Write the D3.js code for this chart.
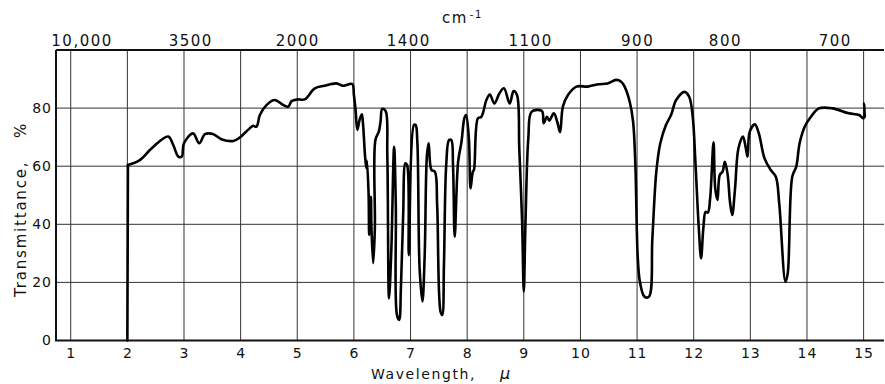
<!DOCTYPE html>
<html>
<head>
<meta charset="utf-8">
<script src="https://cdn.jsdelivr.net/npm/d3@7"></script>
<style>
  html, body { margin: 0; padding: 0; background: #fff; }
  svg text { font-family: "DejaVu Sans", sans-serif; fill: #111; }
</style>
</head>
<body>
<svg id="chart" width="885" height="384"></svg>
<script>
// spectrum
const wavelength = [
  2.00, 2.01, 2.22, 2.43, 2.72, 2.81, 2.90, 2.96, 3.00, 3.16, 3.27, 3.37, 3.51, 3.66, 3.87, 3.98,
  4.13, 4.22, 4.28, 4.34, 4.46, 4.60, 4.75, 4.84, 4.90, 5.00, 5.13, 5.31, 5.48, 5.69, 5.81, 5.97,
  6.00, 6.03, 6.06, 6.10, 6.14, 6.16, 6.20, 6.22, 6.23, 6.26, 6.27, 6.30, 6.31, 6.34, 6.37, 6.38,
  6.44, 6.47, 6.50, 6.56, 6.59, 6.62, 6.66, 6.71, 6.74, 6.76, 6.80, 6.83, 6.87, 6.91, 6.94, 6.97,
  7.06, 7.09, 7.12, 7.16, 7.21, 7.25, 7.29, 7.32, 7.37, 7.43, 7.47, 7.53, 7.56, 7.59, 7.63, 7.68,
  7.72, 7.75, 7.78, 7.84, 7.90, 7.95, 7.98, 8.03, 8.06, 8.10, 8.12, 8.19, 8.25, 8.34, 8.40, 8.48,
  8.57, 8.65, 8.75, 8.82, 8.88, 8.92, 8.97, 9.00, 9.03, 9.08, 9.14, 9.32, 9.35, 9.41, 9.45, 9.53,
  9.59, 9.64, 9.69, 9.78, 9.93, 10.13, 10.31, 10.48, 10.63, 10.72, 10.78, 10.87, 10.93, 10.97, 11.01, 11.05,
  11.13, 11.21, 11.27, 11.34, 11.41, 11.51, 11.60, 11.69, 11.84, 11.92, 11.98, 12.03, 12.09, 12.13, 12.17, 12.21,
  12.25, 12.29, 12.35, 12.38, 12.42, 12.46, 12.51, 12.55, 12.60, 12.64, 12.68, 12.73, 12.79, 12.87, 12.92, 12.95,
  12.99, 13.08, 13.15, 13.25, 13.36, 13.45, 13.51, 13.62, 13.66, 13.74, 13.81, 13.87, 13.96, 14.07, 14.21, 14.45,
  14.74, 14.92, 15.00, 15.01, 15.02
];
const transmittance = [
  0, 60.4, 62.1, 66.2, 70.2, 67.3, 63.3, 63.3, 67.9, 71.3, 67.9, 71.0, 71.1, 69.3, 68.7, 69.8,
  72.5, 73.9, 73.6, 77.6, 81.1, 82.8, 81.1, 80.5, 82.4, 83.0, 83.0, 86.8, 87.7, 88.5, 87.7, 88.3,
  84.5, 79.3, 72.5, 75.9, 77.9, 74.8, 62.7, 59.3, 61.9, 50.1, 36.3, 49.5, 38.6, 26.6, 38.6, 69.0,
  71.9, 75.3, 79.7, 79.0, 63.9, 14.5, 30.6, 66.7, 46.6, 8.8, 7.1, 18.0, 43.2, 61.0, 60.4, 29.4,
  74.2, 74.2, 68.4, 24.9, 13.4, 29.4, 63.9, 67.9, 58.7, 58.1, 46.6, 9.9, 8.8, 26.0, 60.4, 69.0,
  69.0, 60.4, 35.7, 61.5, 68.4, 76.5, 77.6, 69.6, 52.4, 58.1, 58.7, 76.5, 77.0, 82.8, 84.7, 81.6,
  85.1, 86.8, 81.6, 85.9, 84.5, 66.2, 40.9, 16.8, 40.9, 69.6, 78.8, 79.0, 74.8, 77.0, 75.7, 78.2,
  75.3, 71.7, 80.5, 84.5, 87.4, 87.4, 88.2, 88.5, 89.7, 89.1, 87.4, 82.2, 75.3, 60.4, 29.4, 20.2,
  15.1, 15.1, 35.2, 58.1, 67.9, 74.2, 77.6, 82.8, 85.6, 83.9, 77.6, 61.5, 38.6, 28.3, 38.6, 44.3,
  44.0, 48.9, 68.2, 52.4, 48.4, 57.0, 58.1, 61.5, 57.0, 47.8, 43.2, 52.4, 66.2, 70.2, 66.2, 63.3,
  71.9, 74.4, 71.3, 62.7, 58.7, 56.4, 47.2, 20.2, 23.1, 56.4, 59.8, 67.9, 73.6, 77.0, 79.9, 79.9,
  78.2, 77.6, 76.5, 81.6, 77.0
];

const wavelengthTicks = d3.range(1, 16);
const transTicks = [0, 20, 40, 60, 80];
const transGrid = [20, 40, 60, 80, 100];
// top scale labels and where they sit along the micron scale
const wavenumberLabels = ['10,000', '3500', '2000', '1400', '1100', '900', '800', '700'];
const wavenumberAt = [1.20, 3.12, 5.01, 6.97, 9.12, 11.01, 12.56, 14.50];

const svg = d3.select('#chart');
const LEFT = 56, RIGHT = 884, TOP = 50, BOTTOM = 340.5;

const x = d3.scaleLinear().domain([0.74, 15.36]).range([LEFT, RIGHT]);
const y = d3.scaleLinear().domain([0, 100]).range([BOTTOM, TOP]);

// grid
svg.append('g')
  .selectAll('line')
  .data(wavelengthTicks)
  .join('line')
  .attr('x1', d => x(d)).attr('x2', d => x(d))
  .attr('y1', TOP).attr('y2', BOTTOM)
  .attr('stroke', '#333')
  .attr('stroke-width', 1);

svg.append('g')
  .selectAll('line')
  .data(transGrid)
  .join('line')
  .attr('x1', LEFT).attr('x2', RIGHT)
  .attr('y1', d => y(d)).attr('y2', d => y(d))
  .attr('stroke', d => d === 100 ? '#111' : '#333')
  .attr('stroke-width', d => d === 100 ? 2 : 1);

// frame: left and bottom
svg.append('path')
  .attr('d', `M${LEFT},${TOP}V${BOTTOM}H${RIGHT}`)
  .attr('fill', 'none')
  .attr('stroke', '#111')
  .attr('stroke-width', 2);

// bottom axis labels
const xAxis = d3.axisBottom(x).tickValues(wavelengthTicks).tickSize(0).tickPadding(8).tickFormat(d3.format('d'));
svg.append('g')
  .attr('transform', `translate(0,${BOTTOM})`)
  .call(xAxis)
  .call(g => g.select('.domain').remove())
  .selectAll('text')
  .style('font-size', '14px')
  .style('letter-spacing', '1px')
  .attr('fill', '#111');

// left axis labels
const yAxis = d3.axisLeft(y).tickValues(transTicks).tickSize(0).tickPadding(4);
svg.append('g')
  .attr('transform', `translate(${LEFT},0)`)
  .call(yAxis)
  .call(g => g.select('.domain').remove())
  .selectAll('text')
  .style('font-size', '14px')
  .style('letter-spacing', '1px')
  .attr('fill', '#111');

// top wavenumber labels
svg.append('g')
  .selectAll('text')
  .data(wavenumberLabels)
  .join('text')
  .attr('x', (d, i) => x(wavenumberAt[i]))
  .attr('y', 46)
  .attr('text-anchor', 'middle')
  .style('font-size', '15px')
  .style('letter-spacing', '1.5px')
  .text(d => d);

const cm = svg.append('text')
  .attr('x', 442)
  .attr('y', 23)
  .style('font-size', '15px')
  .style('letter-spacing', '1.5px');
cm.append('tspan').text('cm');
cm.append('tspan').attr('dy', -5).attr('dx', 2).style('font-size', '10px').text('-1');

// axis titles
const xt = svg.append('text')
  .attr('x', 371)
  .attr('y', 379)
  .style('font-size', '14px')
  .style('letter-spacing', '1.6px');
xt.append('tspan').text('Wavelength,');
xt.append('tspan').attr('dx', 24).style('font-style', 'italic').style('font-size', '16px').text('μ');

svg.append('text')
  .attr('transform', 'translate(26,297) rotate(-90)')
  .style('font-size', '15px')
  .style('letter-spacing', '1.8px')
  .text('Transmittance,');

svg.append('text')
  .attr('transform', 'translate(26,138) rotate(-90)')
  .style('font-size', '15px')
  .text('%');

// trace: the pen drop at 2 µ is straight, the rest smoothed
const points = wavelength.map((w, i) => [w, transmittance[i]]);
const straight = d3.line().x(d => x(d[0])).y(d => y(d[1]));
const smooth = d3.line()
  .curve(d3.curveCatmullRom.alpha(0.5))
  .x(d => x(d[0]))
  .y(d => y(d[1]));

svg.append('g')
  .selectAll('path')
  .data([[straight, points.slice(0, 2)], [smooth, points.slice(1)]])
  .join('path')
  .attr('d', ([gen, pts]) => gen(pts))
  .attr('fill', 'none')
  .attr('stroke', '#000')
  .attr('stroke-width', 2.6)
  .attr('stroke-linejoin', 'round')
  .attr('stroke-linecap', 'round');
</script>
</body>
</html>
